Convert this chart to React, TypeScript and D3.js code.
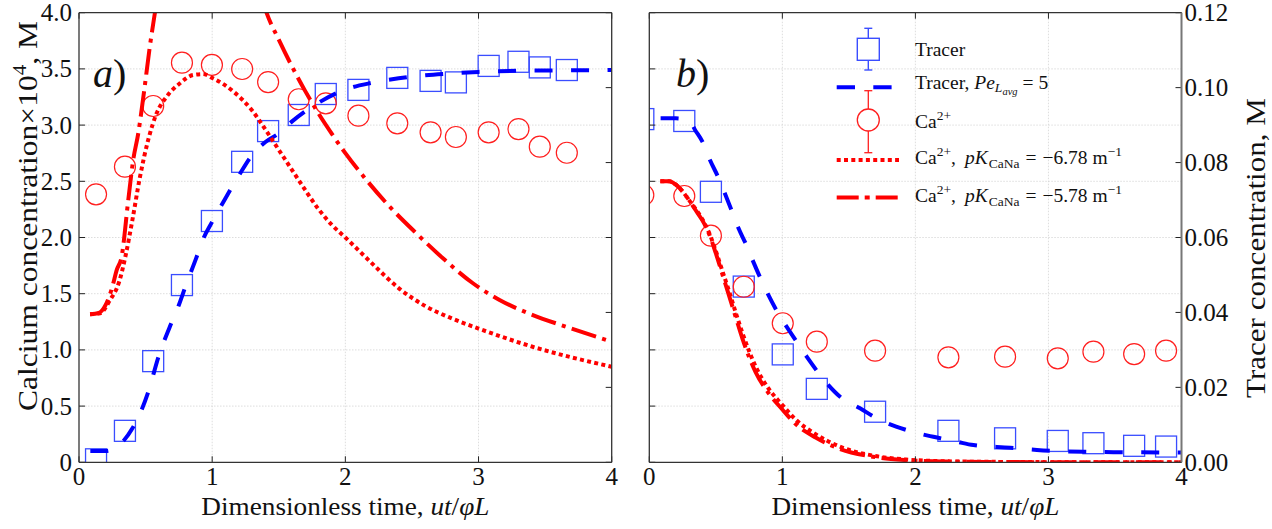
import React from "react";
import * as d3 from "d3";

const W = 1272, H = 529;
const TOP = 12.7, BOTTOM = 462.3;
const FONT = "'Liberation Serif', 'Times New Roman', serif";

// ---- panel a) ----
const timeA = [0.128, 0.345, 0.557, 0.773, 0.998, 1.225, 1.42, 1.65, 1.853, 2.098, 2.39, 2.64, 2.83, 3.076, 3.3, 3.46, 3.663];
const tracerA = [0.0008, 0.0084, 0.027, 0.0473, 0.0644, 0.0802, 0.0884, 0.0927, 0.0983, 0.0994, 0.1026, 0.1018, 0.1014, 0.1058, 0.1069, 0.1054, 0.1047];
const calciumA = [2.384, 2.63, 3.17, 3.555, 3.535, 3.499, 3.383, 3.23, 3.194, 3.084, 3.016, 2.936, 2.894, 2.936, 2.965, 2.808, 2.754];

const modelTimeTrA = [0.085, 0.2, 0.3, 0.4, 0.47, 0.52, 0.6, 0.68, 0.75, 0.8, 0.88, 0.93, 1.0, 1.1, 1.2, 1.3, 1.4, 1.5, 1.6, 1.8, 2.0, 2.2, 2.4, 2.6, 2.8, 3.0, 3.3, 3.6, 4.0];
const modelTrA = [0.003, 0.003, 0.0045, 0.009, 0.014, 0.0188, 0.0285, 0.036, 0.042, 0.047, 0.0545, 0.0594, 0.0642, 0.0705, 0.0765, 0.082, 0.0855, 0.0878, 0.091, 0.096, 0.0995, 0.1013, 0.1025, 0.1033, 0.1038, 0.1042, 0.1045, 0.1046, 0.1047];

const modelTimeDotA = [0.083, 0.158, 0.233, 0.3, 0.35, 0.4, 0.458, 0.52, 0.583, 0.658, 0.758, 0.857, 0.93, 1.0, 1.158, 1.3, 1.4, 1.5, 1.6, 1.7, 1.8, 1.9, 2.0, 2.2, 2.4, 2.6, 2.8, 3.0, 3.4, 4.0];
const modelDotA = [1.317, 1.326, 1.444, 1.6, 1.84, 2.15, 2.54, 2.87, 3.105, 3.253, 3.372, 3.446, 3.454, 3.42, 3.3, 3.13, 2.96, 2.78, 2.6, 2.42, 2.25, 2.11, 2.0, 1.77, 1.55, 1.39, 1.28, 1.19, 1.03, 0.85];

const modelTimeDashA = [0.083, 0.15, 0.2, 0.25, 0.283, 0.32, 0.37, 0.407, 0.445, 0.49, 0.532, 0.57, 0.62, 0.7, 0.8, 0.9, 1.0, 1.1, 1.2, 1.3, 1.408, 1.5, 1.6, 1.7, 1.8, 1.9, 2.0, 2.158, 2.333, 2.533, 2.733, 2.958, 3.158, 3.408, 3.658, 4.0];
const modelDashA = [1.317, 1.33, 1.4, 1.56, 1.71, 1.829, 2.334, 2.69, 2.927, 3.312, 3.7, 4.0, 4.4, 4.85, 5.2, 5.35, 5.3, 5.1, 4.8, 4.45, 4.0, 3.76, 3.52, 3.3, 3.1, 2.92, 2.75, 2.512, 2.274, 2.037, 1.815, 1.593, 1.444, 1.31, 1.206, 1.073];

// ---- panel b) ----
const timeB = [-0.045, 0.263, 0.463, 0.71, 1.003, 1.259, 1.697, 2.248, 2.674, 3.07, 3.338, 3.644, 3.884];
const tracerB = [0.0916, 0.0911, 0.0722, 0.0469, 0.0288, 0.0196, 0.0135, 0.0084, 0.0064, 0.0057, 0.0051, 0.0044, 0.0042];
const calciumB = [2.378, 2.369, 2.016, 1.562, 1.237, 1.073, 0.993, 0.934, 0.94, 0.925, 0.984, 0.963, 0.993];

const modelTimeTrB = [0.085, 0.2, 0.3, 0.344, 0.406, 0.456, 0.519, 0.569, 0.619, 0.669, 0.732, 0.782, 0.883, 0.983, 1.083, 1.183, 1.334, 1.434, 1.584, 1.734, 1.935, 2.135, 2.311, 2.436, 2.713, 2.913, 3.263, 3.514, 4.0];
const modelTrB = [0.0918, 0.0918, 0.0912, 0.0887, 0.0851, 0.0807, 0.076, 0.0717, 0.0672, 0.0626, 0.0578, 0.0535, 0.0455, 0.0389, 0.0335, 0.0282, 0.0211, 0.0175, 0.0144, 0.0113, 0.0086, 0.0068, 0.0055, 0.0046, 0.0039, 0.0033, 0.0028, 0.0027, 0.0026];

const modelTimeCaB = [0.083, 0.15, 0.2, 0.25, 0.3, 0.35, 0.4, 0.45, 0.5, 0.55, 0.6, 0.65, 0.7, 0.8, 0.9, 1.0, 1.1, 1.25, 1.43, 1.68, 1.93, 2.2, 2.6, 3.0, 4.0];
const modelDotB = [2.5, 2.5, 2.47, 2.41, 2.33, 2.25, 2.16, 2.04, 1.88, 1.7, 1.52, 1.33, 1.15, 0.85, 0.65, 0.51, 0.38, 0.25, 0.14, 0.06, 0.025, 0.01, 0.004, 0.0015, 0];
const modelDashB = [2.5, 2.5, 2.47, 2.41, 2.33, 2.24, 2.15, 2.03, 1.86, 1.67, 1.48, 1.29, 1.1, 0.8, 0.61, 0.47, 0.34, 0.22, 0.12, 0.05, 0.02, 0.008, 0.003, 0.001, 0];

// ---- ticks ----
const xTicks = [0, 1, 2, 3, 4];
const caTicks = [0, 0.5, 1, 1.5, 2, 2.5, 3, 3.5, 4];
const caTickLabels = ["0", "0.5", "1.0", "1.5", "2.0", "2.5", "3.0", "3.5", "4.0"];
const trTicks = [0, 0.02, 0.04, 0.06, 0.08, 0.1, 0.12];
const trTickLabels = ["0.00", "0.02", "0.04", "0.06", "0.08", "0.10", "0.12"];

const BLUE = "#0000ff";
const SQ = "#3a4dff";
const RED = "#ff0000";
const CIRC = "#ff1f1f";

type Pt = [number, number];
const zip = (a: number[], b: number[]): Pt[] => a.map((t, i) => [t, b[i]] as Pt);

interface PanelProps {
  id: string;
  x0: number;
  x1: number;
  tag: string;
  tagX: number;
  side: "left" | "right";
  time: number[];
  tracer: number[];
  calcium: number[];
  trModel: Pt[];
  dotModel: Pt[];
  dashModel: Pt[];
}

function Panel(p: PanelProps) {
  const x = d3.scaleLinear().domain([0, 4]).range([p.x0, p.x1]);
  const yCa = d3.scaleLinear().domain([0, 4]).range([BOTTOM, TOP]);
  const yTr = d3.scaleLinear().domain([0, 0.12]).range([BOTTOM, TOP]);
  const lineCa = d3.line<Pt>().x(d => x(d[0])).y(d => yCa(d[1])).curve(d3.curveMonotoneX);
  const lineTr = d3.line<Pt>().x(d => x(d[0])).y(d => yTr(d[1])).curve(d3.curveMonotoneX);
  const tk = 6;
  const cx = (p.x0 + p.x1) / 2;

  return (
    <g>
      <defs>
        <clipPath id={"clip-" + p.id}>
          <rect x={p.x0} y={TOP} width={p.x1 - p.x0} height={BOTTOM - TOP} />
        </clipPath>
      </defs>
      {/* grid */}
      <g stroke="#d4d4d4" strokeWidth={0.8} strokeDasharray="1.5 1.5">
        {xTicks.slice(1, -1).map(t => (
          <line key={"gx" + t} x1={x(t)} x2={x(t)} y1={TOP} y2={BOTTOM} />
        ))}
        {caTicks.slice(1, -1).map(t => (
          <line key={"gy" + t} x1={p.x0} x2={p.x1} y1={yCa(t)} y2={yCa(t)} />
        ))}
      </g>
      <g clipPath={`url(#clip-${p.id})`}>
        {p.time.map((t, i) => (
          <rect key={"s" + i} x={x(t) - 10.5} y={yTr(p.tracer[i]) - 10.5} width={21} height={21}
            fill="none" stroke={SQ} strokeWidth={1.3} />
        ))}
        {p.time.map((t, i) => (
          <circle key={"c" + i} cx={x(t)} cy={yCa(p.calcium[i])} r={10.5}
            fill="none" stroke={CIRC} strokeWidth={1.2} />
        ))}
        <path d={lineTr(p.trModel) || ""} fill="none" stroke={BLUE} strokeWidth={4} strokeDasharray="18 18.5" />
        <path d={lineCa(p.dotModel) || ""} fill="none" stroke={RED} strokeWidth={4} strokeDasharray="4 3.3" />
        <path d={lineCa(p.dashModel) || ""} fill="none" stroke={RED} strokeWidth={4} strokeDasharray="25.6 6.4 4 6.4" />
      </g>
      {/* ticks, all inward */}
      <g stroke="#222" strokeWidth={1}>
        {xTicks.map(t => (
          <g key={"tx" + t}>
            <line x1={x(t)} x2={x(t)} y1={BOTTOM} y2={BOTTOM - tk} />
            <line x1={x(t)} x2={x(t)} y1={TOP} y2={TOP + tk} />
          </g>
        ))}
        {caTicks.map(t => (
          <line key={"tc" + t} x1={p.x0} x2={p.x0 + tk} y1={yCa(t)} y2={yCa(t)} />
        ))}
        {trTicks.map(t => (
          <line key={"tt" + t} x1={p.x1} x2={p.x1 - tk} y1={yTr(t)} y2={yTr(t)} />
        ))}
      </g>
      {/* spines */}
      <line x1={p.x0} x2={p.x1} y1={TOP} y2={TOP} stroke="#333" strokeWidth={1.3} />
      <line x1={p.x0} x2={p.x1} y1={BOTTOM} y2={BOTTOM} stroke="#333" strokeWidth={1.3} />
      <line x1={p.x0} x2={p.x0} y1={TOP} y2={BOTTOM} stroke="#333" strokeWidth={1.3} />
      <line x1={p.x1} x2={p.x1} y1={TOP} y2={BOTTOM}
        stroke={p.side === "right" ? "#777" : "#333"} strokeWidth={p.side === "right" ? 2 : 1.3} />
      {/* tick labels */}
      <g style={{ fontFamily: FONT }} fontSize={25} fill="#111">
        {xTicks.map(t => (
          <text key={"lx" + t} x={x(t)} y={485} textAnchor="middle">{String(t)}</text>
        ))}
        {p.side === "left" && caTicks.map((t, i) => (
          <text key={"lc" + t} x={p.x0 - 7} y={yCa(t) + 8.5} textAnchor="end">{caTickLabels[i]}</text>
        ))}
        {p.side === "right" && trTicks.map((t, i) => (
          <text key={"lt" + t} x={p.x1 + 3} y={yTr(t) + 8.5} textAnchor="start">{trTickLabels[i]}</text>
        ))}
      </g>
      {/* x label */}
      <text x={cx} y={515} textAnchor="middle" style={{ fontFamily: FONT }} fontSize={25} fill="#111"
        textLength={288} lengthAdjust="spacingAndGlyphs">
        Dimensionless time, <tspan fontStyle="italic">ut</tspan>/<tspan fontStyle="italic">φL</tspan>
      </text>
      {/* panel tag */}
      <text x={p.tagX} y={87} style={{ fontFamily: FONT }} fontSize={40} fill="#111">
        <tspan fontStyle="italic">{p.tag}</tspan>)
      </text>
    </g>
  );
}

function Legend() {
  const hx = 868.3, tx = 915, lx0 = 836.7, lx1 = 899;
  return (
    <g style={{ fontFamily: FONT }} fontSize={19.5} fill="#111">
      {/* Tracer data */}
      <g stroke={SQ} strokeWidth={1.4} fill="none">
        <line x1={hx} x2={hx} y1={28.3} y2={70} />
        <line x1={hx - 4} x2={hx + 4} y1={28.3} y2={28.3} />
        <line x1={hx - 4} x2={hx + 4} y1={70} y2={70} />
        <rect x={hx - 11} y={49.3 - 11} width={22} height={22} fill="#fff" />
      </g>
      <text x={tx} y={56}>Tracer</text>
      {/* Tracer model */}
      <line x1={lx0} x2={lx0 + 56} y1={87.3} y2={87.3} stroke={BLUE} strokeWidth={4} strokeDasharray="18.3 18.3" />
      <text x={tx} y={89}>
        Tracer,
        <tspan fontStyle="italic" dx={5}>Pe</tspan>
        <tspan fontStyle="italic" fontSize={13.5} dy={3}>L</tspan>
        <tspan fontStyle="italic" fontSize={10.5} dy={3}>avg</tspan>
        <tspan dy={-6} dx={5}>=</tspan>
        <tspan dx={5}>5</tspan>
      </text>
      {/* Ca data */}
      <g stroke={CIRC} strokeWidth={1.3} fill="none">
        <line x1={hx} x2={hx} y1={90.7} y2={152.7} />
        <line x1={hx - 4} x2={hx + 4} y1={90.7} y2={90.7} />
        <line x1={hx - 4} x2={hx + 4} y1={152.7} y2={152.7} />
        <circle cx={hx} cy={120} r={11} fill="#fff" />
      </g>
      <text x={tx} y={128}>
        Ca<tspan fontSize={13.5} dy={-8}>2+</tspan>
      </text>
      {/* Ca models */}
      <line x1={lx0} x2={lx1} y1={160} y2={160} stroke={RED} strokeWidth={4} strokeDasharray="4 3.3" />
      <line x1={lx0} x2={lx1} y1={197.5} y2={197.5} stroke={RED} strokeWidth={4} strokeDasharray="22 6 5 6" />
      {["−6.78", "−5.78"].map((v, i) => (
        <text key={v} x={tx} y={164 + i * 37.7}>
          Ca<tspan fontSize={13.5} dy={-8}>2+</tspan>
          <tspan dy={8}>,</tspan>
          <tspan fontStyle="italic" dx={9}>pK</tspan>
          <tspan fontSize={13.5} dy={4} dx={1}>CaNa</tspan>
          <tspan dy={-4} dx={6}>=</tspan>
          <tspan dx={6}>{v}</tspan>
          <tspan dx={5}>m</tspan>
          <tspan fontSize={13.5} dy={-8}>−1</tspan>
        </text>
      ))}
    </g>
  );
}

export default function App() {
  return (
    <svg width={W} height={H} viewBox={`0 0 ${W} ${H}`}
      style={{ position: "absolute", left: 0, top: 0, background: "#fff", fontFamily: FONT }}>
      <rect width={W} height={H} fill="#fff" />
      <Panel id="a" x0={79} x1={611.7} tag="a" tagX={93} side="left"
        time={timeA} tracer={tracerA} calcium={calciumA}
        trModel={zip(modelTimeTrA, modelTrA)}
        dotModel={zip(modelTimeDotA, modelDotA)}
        dashModel={zip(modelTimeDashA, modelDashA)} />
      <Panel id="b" x0={649.3} x1={1181.5} tag="b" tagX={676} side="right"
        time={timeB} tracer={tracerB} calcium={calciumB}
        trModel={zip(modelTimeTrB, modelTrB)}
        dotModel={zip(modelTimeCaB, modelDotB)}
        dashModel={zip(modelTimeCaB, modelDashB)} />
      <Legend />
      <text transform="translate(37,216) rotate(-90)" textAnchor="middle" style={{ fontFamily: FONT }}
        fontSize={27} fill="#111" textLength={390} lengthAdjust="spacingAndGlyphs">
        Calcium concentration×10<tspan fontSize={18} dy={-11}>4</tspan><tspan dy={11}>, M</tspan>
      </text>
      <text transform="translate(1265,248) rotate(-90)" textAnchor="middle" style={{ fontFamily: FONT }}
        fontSize={27} fill="#111" textLength={300} lengthAdjust="spacingAndGlyphs">
        Tracer concentration, M
      </text>
    </svg>
  );
}
